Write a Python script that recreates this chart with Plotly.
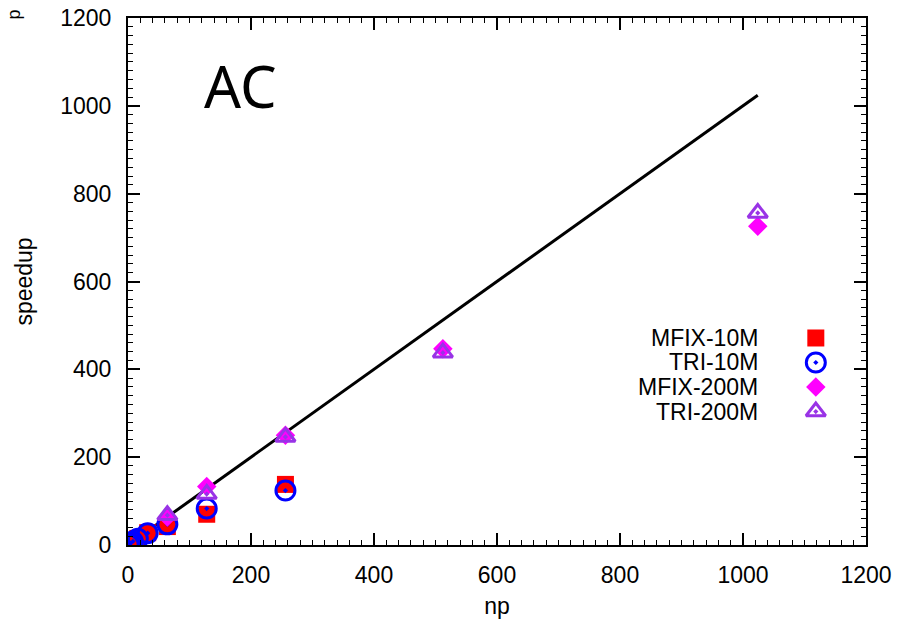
import plotly.graph_objects as go

# Processor counts and measured speedups
np_10m = [1, 2, 4, 8, 16, 32, 64, 128, 256]
mfix_10m = [1, 2, 4, 8, 15, 28, 42, 70, 138]
tri_10m = [1, 2, 4, 8, 14, 27, 47, 83, 124]

np_200m = [64, 128, 256, 512, 1024]
mfix_200m = [64, 133, 250, 447, 726]
tri_200m = [68, 116, 246, 438, 756]

# Ideal (linear) speedup
ideal_np = [1, 1024]
ideal_speedup = [1, 1024]

series_names = ["MFIX-10M", "TRI-10M", "MFIX-200M", "TRI-200M"]

FONT = "Liberation Sans, Arial, sans-serif"
RED = "#ff0000"
BLUE = "#0000ff"
MAGENTA = "#ff00ff"
PURPLE = "#9933e6"

styles = [
    dict(symbol="square", size=17, color=RED),
    dict(symbol="circle-open-dot", size=19, color=BLUE, line=dict(color=BLUE, width=3)),
    dict(symbol="diamond", size=15, color=MAGENTA),
    dict(symbol="triangle-up-open-dot", size=17, color=PURPLE, line=dict(color=PURPLE, width=3)),
]

fig = go.Figure()

fig.add_trace(go.Scatter(x=ideal_np, y=ideal_speedup, mode="lines",
                         line=dict(color="black", width=3), showlegend=False))

for xs, ys, st in [(np_10m, mfix_10m, styles[0]), (np_10m, tri_10m, styles[1]),
                   (np_200m, mfix_200m, styles[2]), (np_200m, tri_200m, styles[3])]:
    fig.add_trace(go.Scatter(x=xs, y=ys, mode="markers", marker=st, showlegend=False))

# Key: labels on the left, symbols on the right, on an overlay axis in [0, 1]
key_x = 0.932
key_text_x = 0.857
key_rows = [0.3928, 0.3463, 0.2998, 0.2533]
for name, st, ky in zip(series_names, styles, key_rows):
    fig.add_trace(go.Scatter(x=[key_x], y=[ky], mode="markers", marker=st,
                             xaxis="x2", yaxis="y2", showlegend=False, hoverinfo="skip"))
    fig.add_annotation(x=key_text_x, y=ky, xref="paper", yref="paper", text=name,
                       showarrow=False, xanchor="right", yanchor="middle",
                       font=dict(family=FONT, size=23, color="black"))

fig.add_annotation(x=0.152, y=0.872, xref="paper", yref="paper", text="AC",
                   showarrow=False, xanchor="center", yanchor="middle",
                   font=dict(family="Noto Sans, sans-serif", size=58, color="black"))

fig.add_annotation(x=-0.155, y=1.006, xref="paper", yref="paper", text="p",
                   showarrow=False, xanchor="center", yanchor="middle", textangle=-90,
                   font=dict(family=FONT, size=18, color="black"))

axis_common = dict(
    range=[0, 1200], dtick=200, ticks="inside", ticklen=12, tickwidth=1.5,
    tickcolor="black", showline=True, linecolor="black", linewidth=2,
    mirror="allticks", showgrid=False, zeroline=False, automargin=False,
    tickfont=dict(family=FONT, size=23, color="black"),
    minor=dict(ticks="inside", ticklen=5, dtick=20, tickwidth=1, tickcolor="black", showgrid=False),
)

fig.update_layout(
    width=901, height=624,
    margin=dict(l=128, r=35, t=18, b=79),
    plot_bgcolor="white", paper_bgcolor="white",
    xaxis=dict(**axis_common, ticklabelstandoff=8,
               title=dict(text="np", font=dict(family=FONT, size=23, color="black"), standoff=11)),
    yaxis=dict(**axis_common, ticklabelstandoff=10,
               title=dict(text="speedup", font=dict(family=FONT, size=23, color="black"), standoff=21)),
    xaxis2=dict(range=[0, 1], overlaying="x", visible=False),
    yaxis2=dict(range=[0, 1], overlaying="y", visible=False),
)

fig.write_html("out.html")
